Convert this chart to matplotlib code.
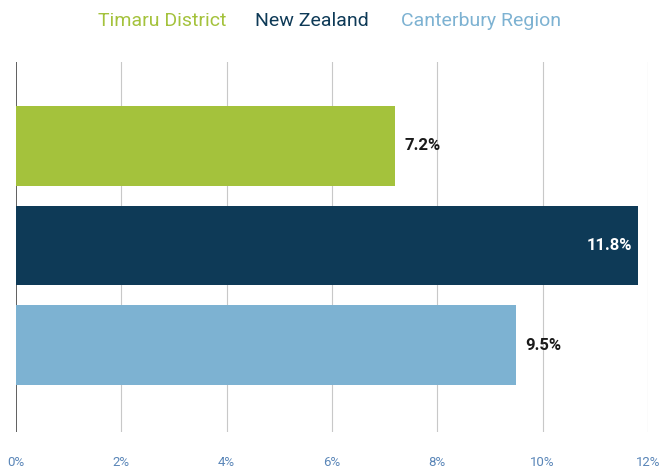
import matplotlib
matplotlib.use("Agg")
import matplotlib.pyplot as plt

categories = ["Timaru District", "New Zealand", "Canterbury Region"]
values = [7.2, 11.8, 9.5]
colors = ["#a4c23c", "#0e3a57", "#7db2d2"]
label_colors = ["#1a1a1a", "#ffffff", "#1a1a1a"]
xticks = [0, 2, 4, 6, 8, 10, 12]
xtick_labels = ["0%", "2%", "4%", "6%", "8%", "10%", "12%"]

plt.rcParams['font.family'] = ['Roboto', 'DejaVu Sans']

fig = plt.figure(figsize=(6.6, 4.71), dpi=100)
ax = fig.add_axes([0.024, 0.083, 0.958, 0.785])

ypos = list(range(len(categories)))
ax.barh(ypos, values, height=0.8, color=colors, zorder=2)
for y, v, lc in zip(ypos, values, label_colors):
    if lc == "#ffffff":
        ax.text(v - 0.1, y, f"{v}%", ha="right", va="center", color=lc,
                fontsize=12, fontweight="bold", zorder=3)
    else:
        ax.text(v + 0.17, y, f"{v}%", ha="left", va="center", color=lc,
                fontsize=12, fontweight="bold", zorder=3)

ax.set_xlim(0, 12)
ax.set_ylim(2.87, -0.84)
ax.set_xticks(xticks)
ax.set_xticklabels(xtick_labels, color="#5a86b8", fontsize=9.5)
ax.tick_params(axis="x", length=0, pad=17)
ax.set_yticks([])
for x in xticks:
    ax.axvline(x, color="#444444" if x == 0 else "#c8c8c8", lw=1.2 if x == 0 else 0.8, zorder=1)
for s in ax.spines.values():
    s.set_visible(False)

# legend as colored text
leg_x = [0.245, 0.473, 0.729]
for cx, name, c in zip(leg_x, categories, colors):
    fig.text(cx, 0.955, name, color=c, fontsize=14, ha="center", va="center")

fig.savefig("out.png", dpi=100, facecolor="white")
